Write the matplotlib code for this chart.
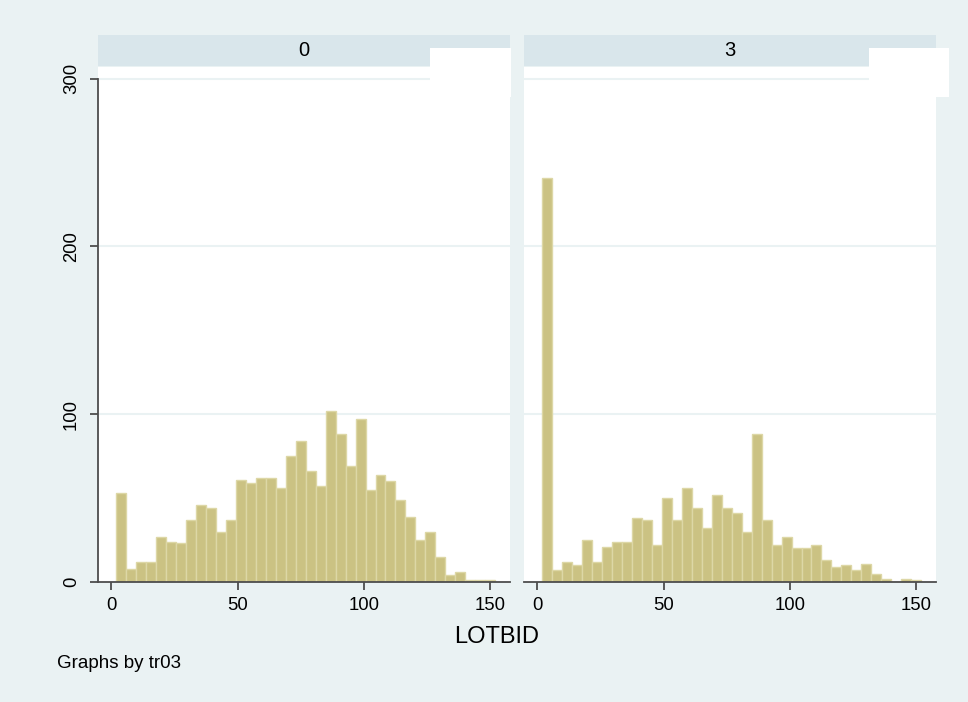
import numpy as np
import matplotlib.pyplot as plt
from matplotlib.patches import Rectangle

# LOTBID frequencies by tr03 group (38 equal-width bins)
BIN_LO = 2
BIN_HI = 152
GROUPS = ['0', '3']
COUNTS_TR0 = [53, 8, 12, 12, 27, 24, 23, 37, 46, 44, 30, 37, 61, 59, 62, 62, 56, 75, 84,
              66, 57, 102, 88, 69, 97, 55, 64, 60, 49, 39, 25, 30, 15, 4, 6, 1, 1, 1]
COUNTS_TR3 = [241, 7, 12, 10, 25, 12, 21, 24, 24, 38, 37, 22, 50, 37, 56, 44, 32, 52, 44,
              41, 30, 88, 37, 22, 27, 20, 20, 22, 13, 9, 10, 7, 11, 5, 2, 0, 2, 1]
XTICKS = [0, 50, 100, 150]
YTICKS = [0, 100, 200, 300]

BG = '#eaf2f3'
STRIP = '#d9e6eb'
FILL = '#cbc283'
EDGE = '#ddd7a6'
AXIS = '#4d4d4d'

plt.rcParams['font.family'] = ['Liberation Sans', 'DejaVu Sans']

fig = plt.figure(figsize=(9.68, 7.02), dpi=100, facecolor=BG)
W, H = 968, 702


def fig_rect(x0, y0, x1, y1):
    # pixel box (top-left origin) -> figure fraction [l, b, w, h]
    return [x0 / W, (H - y1) / H, (x1 - x0) / W, (y1 - y0) / H]


edges = np.linspace(BIN_LO, BIN_HI, len(COUNTS_TR0) + 1)
panels = [(98, 510, COUNTS_TR0), (524, 936, COUNTS_TR3)]

for i, (x0, x1, counts) in enumerate(panels):
    ax = fig.add_axes(fig_rect(x0, 67, x1, 582))
    ax.set_facecolor('white')
    ax.bar(edges[:-1], counts, width=np.diff(edges), align='edge',
           color=FILL, edgecolor=EDGE, linewidth=1.0, zorder=2)
    ax.set_xlim(-5.3, 157.9)
    ax.set_ylim(0, 307)
    for y in YTICKS[1:]:
        ax.axhline(y, color=BG, lw=1.5, zorder=1)

    for s in ['top', 'right']:
        ax.spines[s].set_visible(False)
    ax.spines['bottom'].set_color(AXIS)
    ax.spines['bottom'].set_linewidth(1.3)
    ax.set_xticks(XTICKS)
    ax.tick_params(axis='x', length=6, width=1.3, color=AXIS, pad=5, labelsize=13.3)

    if i == 0:
        ax.spines['left'].set_color(AXIS)
        ax.spines['left'].set_linewidth(1.3)
        ax.spines['left'].set_bounds(0, 300)
        ax.set_yticks(YTICKS)
        ax.set_yticklabels([str(v) for v in YTICKS], rotation=90, va='center')
        ax.tick_params(axis='y', length=6, width=1.3, color=AXIS, pad=7, labelsize=13.3)
    else:
        ax.spines['left'].set_visible(False)
        ax.set_yticks([])

    # group header strip
    sax = fig.add_axes(fig_rect(x0, 35, x1, 66))
    sax.set_facecolor(STRIP)
    sax.set_xticks([])
    sax.set_yticks([])
    for s in sax.spines.values():
        s.set_visible(False)
    sax.text(0.5, 0.5, GROUPS[i], ha='center', va='center', fontsize=14.5,
             transform=sax.transAxes)

# empty white key boxes over the strips
for bx0, bx1 in [(430, 511), (869, 949)]:
    l, b, w, h = fig_rect(bx0, 48, bx1, 97)
    fig.patches.append(Rectangle((l, b), w, h, transform=fig.transFigure,
                                 facecolor='white', edgecolor='none', zorder=10))

fig.text(497 / W, 1 - 637 / H, 'LOTBID', ha='center', va='center', fontsize=17)
fig.text(57 / W, 1 - 664 / H, 'Graphs by tr03', ha='left', va='center', fontsize=13.5)

plt.savefig('out.png', dpi=100, facecolor=BG)
